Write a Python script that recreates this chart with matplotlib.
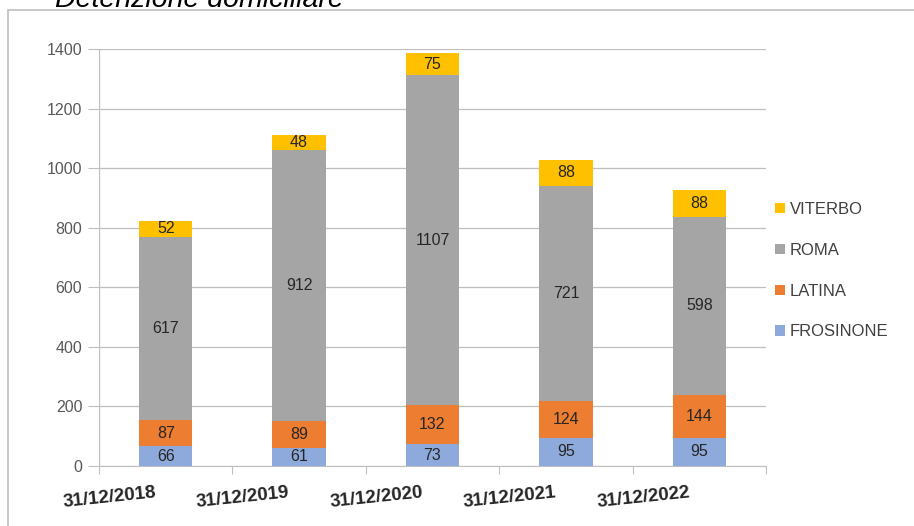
import numpy as np
import matplotlib.pyplot as plt
from matplotlib.patches import Rectangle

# data
categories = ['31/12/2018', '31/12/2019', '31/12/2020', '31/12/2021', '31/12/2022']
frosinone = [66, 61, 73, 95, 95]
latina = [87, 89, 132, 124, 144]
roma = [617, 912, 1107, 721, 598]
viterbo = [52, 48, 75, 88, 88]

series = [('FROSINONE', frosinone, '#8EA9DB'),
          ('LATINA', latina, '#ED7D31'),
          ('ROMA', roma, '#A5A5A5'),
          ('VITERBO', viterbo, '#FFC000')]

plt.rcParams['font.family'] = ['Liberation Sans', 'DejaVu Sans']

fig = plt.figure(figsize=(9.14, 5.26), dpi=100)
W, H = 914, 526
ax = fig.add_axes([99 / W, 1 - 466 / H, (766 - 99) / W, (466 - 49) / H])

x = np.arange(len(categories))
bottom = np.zeros(len(categories))
handles = []
for name, vals, col in series:
    b = ax.bar(x, vals, width=0.4, bottom=bottom, color=col, label=name, zorder=3)
    handles.append(b)
    for xi, v, bt in zip(x, vals, bottom):
        ax.text(xi, bt + v / 2, str(v), ha='center', va='center',
                fontsize=11.5, color='#262626', zorder=4)
    bottom += np.array(vals)

ax.set_xlim(-0.5, len(categories) - 0.5)
ax.set_ylim(0, 1400)
ax.set_yticks(range(0, 1401, 200))
ax.tick_params(axis='y', labelsize=11.5, colors='#595959', length=8, width=0.8,
               color='#BFBFBF', pad=4)
ax.grid(axis='y', color='#BFBFBF', linewidth=0.9, zorder=0)
for s in ['top', 'right', 'left']:
    ax.spines[s].set_visible(False)
ax.spines['bottom'].set_color('#BFBFBF')
ax.axvline(-0.5, color='#BFBFBF', linewidth=0.9, zorder=1)

# x ticks between categories, labels shifted left and tilted
ax.set_xticks(np.arange(-0.5, len(categories)), minor=False)
ax.set_xticklabels([])
ax.tick_params(axis='x', length=6, width=0.8, color='#BFBFBF')
for xi, lab in zip(x, categories):
    ax.text(xi - 0.42, -62, lab, ha='center', va='top', rotation=6,
            fontsize=13.5, fontweight='bold', color='#262626', clip_on=False)

leg = fig.legend(handles[::-1], [s[0] for s in series][::-1],
                 loc='upper left', bbox_to_anchor=(760 / W, 1 - 187 / H),
                 frameon=False, fontsize=12, handlelength=0.6, handleheight=0.6,
                 labelspacing=1.55, handletextpad=0.3)
for t in leg.get_texts():
    t.set_color('#404040')

# outer frame
fig.patches.append(Rectangle((8 / W, -0.01), 1.0, 1 - 10 / H + 0.01,
                             transform=fig.transFigure, fill=False,
                             edgecolor='#BFBFBF', linewidth=1.2))

fig.text(55 / W, 1 - 7 / H, 'Detenzione domiciliare', fontsize=20.5, style='italic',
         color='#000000', ha='left', va='baseline')

fig.savefig('out.png', dpi=100)
